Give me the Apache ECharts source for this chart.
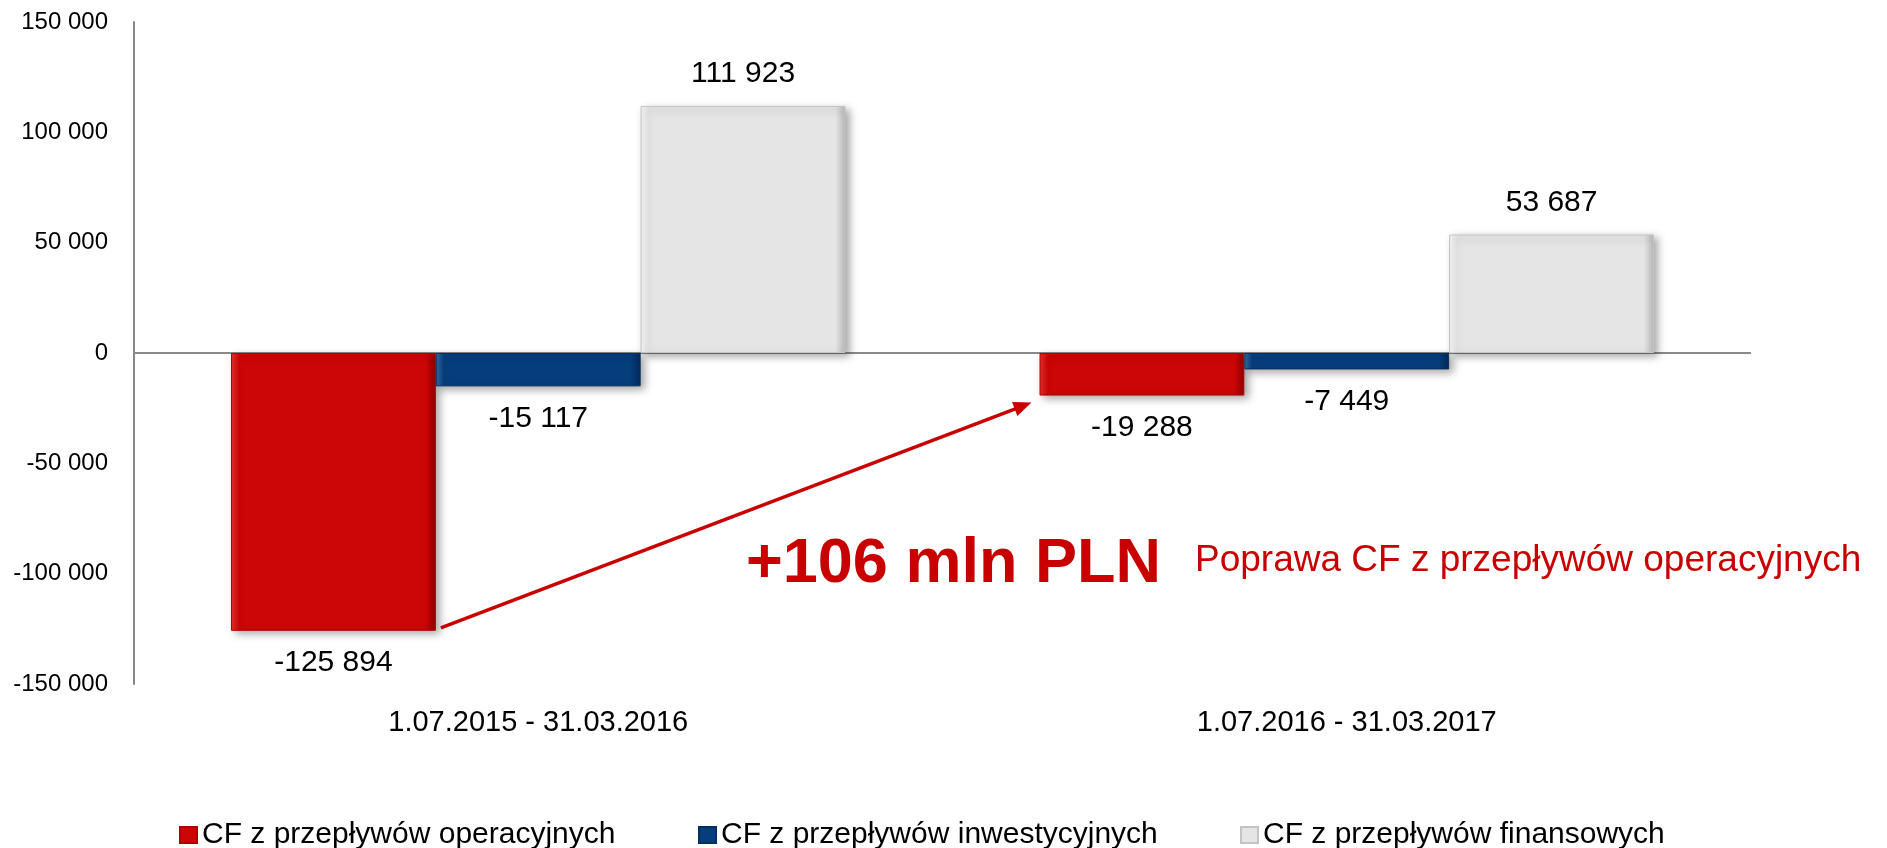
<!DOCTYPE html>
<html>
<head>
<meta charset="utf-8">
<script src="https://cdn.jsdelivr.net/npm/echarts@6/dist/echarts.min.js"></script>
<style>
html,body{margin:0;padding:0;background:#fff;}
#chart{width:1887px;height:848px;}
</style>
</head>
<body>
<div id="chart"></div>
<script>
const categories = ['1.07.2015 - 31.03.2016', '1.07.2016 - 31.03.2017'];
const seriesNames = ['CF z przepływów operacyjnych', 'CF z przepływów inwestycyjnych', 'CF z przepływów finansowych'];
const operacyjne = [-125894, -19288];
const inwestycyjne = [-15117, -7449];
const finansowe = [111923, 53687];
const yTicks = { min: -150000, max: 150000, interval: 50000 };
const annotationBig = '+106 mln PLN';
const annotationSmall = 'Poprawa CF z przepływów operacyjnych';

const FONT = '"Liberation Sans", Arial, sans-serif';
function fmt(v) {
  const s = Math.abs(v).toString().replace(/\B(?=(\d{3})+(?!\d))/g, ' ');
  return (v < 0 ? '-' : '') + s;
}
function grad(light, face, dark) {
  return new echarts.graphic.LinearGradient(0, 0, 1, 0, [
    { offset: 0, color: light },
    { offset: 0.04, color: face },
    { offset: 0.95, color: face },
    { offset: 1, color: dark }
  ]);
}
const shadow = { shadowColor: 'rgba(0,0,0,0.35)', shadowBlur: 8, shadowOffsetX: 4, shadowOffsetY: 3 };
const labelCfg = {
  show: true, position: 'outside', distance: 17,
  color: '#000', fontFamily: FONT, fontSize: 30,
  formatter: p => fmt(p.value)
};
const legendText = { fontFamily: FONT, fontSize: 30, color: '#000' };
const legendLefts = [179, 698, 1240];

const chart = echarts.init(document.getElementById('chart'));
const option = {
  animation: false,
  backgroundColor: '#fff',
  grid: { left: 134, right: 136, top: 22, bottom: 164, containLabel: false },
  legend: seriesNames.map((n, i) => ({
    left: legendLefts[i], top: 820, padding: 0,
    itemWidth: 17, itemHeight: 16,
    icon: 'rect',
    textStyle: legendText,
    data: [n]
  })),
  xAxis: {
    type: 'category',
    data: categories,
    axisLine: { show: false, onZero: false },
    axisTick: { show: false },
    splitLine: { show: false },
    axisLabel: { color: '#000', fontFamily: FONT, fontSize: 29, margin: 24 }
  },
  yAxis: {
    type: 'value',
    min: yTicks.min, max: yTicks.max, interval: yTicks.interval,
    axisLine: { show: true, lineStyle: { color: '#878787', width: 2 } },
    axisTick: { show: false },
    splitLine: { show: false },
    axisLabel: { color: '#000', fontFamily: FONT, fontSize: 24, margin: 26, formatter: v => fmt(v) }
  },
  series: [
    {
      name: seriesNames[0], type: 'bar', data: operacyjne,
      barGap: '0%', barCategoryGap: '24%',
      itemStyle: Object.assign({ color: grad('#E63030', '#CC0606', '#8E0000'), borderColor: '#B00000', borderWidth: 1 }, shadow),
      label: labelCfg
    },
    {
      name: seriesNames[1], type: 'bar', data: inwestycyjne,
      barGap: '0%', barCategoryGap: '24%',
      itemStyle: Object.assign({ color: grad('#3568A8', '#063D7B', '#03295A'), borderColor: '#052F60', borderWidth: 1 }, shadow),
      label: labelCfg
    },
    {
      name: seriesNames[2], type: 'bar', data: finansowe,
      barGap: '0%', barCategoryGap: '24%',
      itemStyle: Object.assign({ color: grad('#F7F7F7', '#E5E5E5', '#B8B8B8'), borderColor: '#C4C4C4', borderWidth: 1 }, shadow),
      label: labelCfg,
      markLine: {
        silent: true, symbol: 'none', label: { show: false },
        lineStyle: { color: '#8A8A8A', width: 2, type: 'solid' },
        data: [{ yAxis: 0 }],
        z: 1
      }
    }
  ]
};
chart.setOption(option);

function drawAnnotations() {
  const data0 = chart.getModel().getSeriesByIndex(0).getData();
  const a = data0.getItemLayout(0);
  const b = data0.getItemLayout(1);
  const sx = a.x + a.width + 5, sy = a.y + a.height - 3;
  const ex = b.x - 8, ey = b.y + b.height + 7;
  const dx = ex - sx, dy = ey - sy, len = Math.sqrt(dx * dx + dy * dy);
  const ux = dx / len, uy = dy / len, nx = -uy, ny = ux;
  const headLen = 18, headW = 7.5;
  const bx = ex - ux * headLen, by = ey - uy * headLen;
  const red = '#C80000';
  chart.setOption({
    graphic: [
      { type: 'line', shape: { x1: sx, y1: sy, x2: bx + ux * 2, y2: by + uy * 2 }, style: { stroke: red, lineWidth: 3.5 }, z: 50 },
      { type: 'polygon', shape: { points: [[ex, ey], [bx + nx * headW, by + ny * headW], [bx - nx * headW, by - ny * headW]] }, style: { fill: red }, z: 50 },
      { type: 'text', x: 746, y: 565, style: { text: annotationBig, fill: red, font: 'bold 63px ' + FONT, verticalAlign: 'middle', align: 'left' }, z: 50 },
      { type: 'text', x: 1195, y: 561, style: { text: annotationSmall, fill: red, font: '37px ' + FONT, verticalAlign: 'middle', align: 'left' }, z: 50 }
    ]
  });
}
drawAnnotations();
</script>
</body>
</html>
